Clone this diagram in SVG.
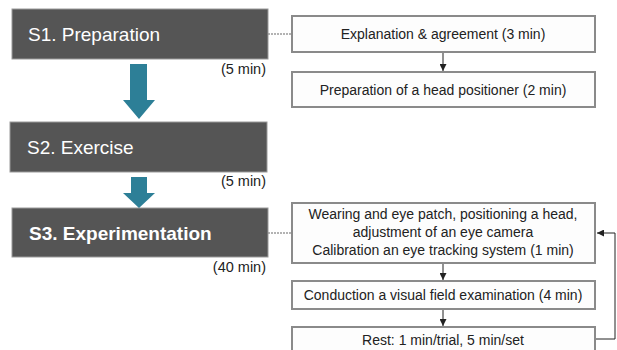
<svg xmlns="http://www.w3.org/2000/svg" width="617" height="350" viewBox="0 0 617 350">
<defs>
<style>
.stage{fill:#555555;stroke:#9a9a9a;stroke-width:1}
.st{fill:#ffffff;font-family:"Liberation Sans",Arial,sans-serif;font-size:19px}
.dur{fill:#222;font-family:"Liberation Sans",Arial,sans-serif;font-size:14.5px;text-anchor:end}
.box{fill:#fdfdfd;stroke:#8a8a8a;stroke-width:2}
.bt{fill:#222;font-family:"Liberation Sans",Arial,sans-serif;font-size:14px;text-anchor:middle}
.big{fill:#2d7f97}
.dash{stroke:#9a9a9a;stroke-width:1.5;stroke-dasharray:2 1;fill:none}
.line{stroke:#222;stroke-width:1;fill:none}
</style>
<marker id="ah" viewBox="0 0 10 10" refX="10" refY="5" markerWidth="7" markerHeight="7" orient="auto" markerUnits="userSpaceOnUse">
<path d="M0,0 L10,5 L0,10 z" fill="#222"/>
</marker>
</defs>
<rect width="617" height="350" fill="#ffffff"/>

<g id="S1">
<rect class="stage" x="12" y="9" width="256" height="50"/>
<text class="st" x="28" y="41">S1. Preparation</text>
<text class="dur" x="266" y="74">(5 min)</text>
</g>
<g id="S2">
<rect class="stage" x="10" y="122" width="257" height="50"/>
<text class="st" x="27" y="154">S2. Exercise</text>
<text class="dur" x="266" y="186">(5 min)</text>
</g>
<g id="S3">
<rect class="stage" x="12" y="208" width="256" height="49"/>
<text class="st" x="29" y="240" font-weight="bold">S3. Experimentation</text>
<text class="dur" x="266" y="272">(40 min)</text>
</g>

<g id="B1">
<rect class="box" x="292" y="16" width="303" height="36"/>
<text class="bt" x="443" y="39">Explanation &amp; agreement (3 min)</text>
</g>
<g id="B2">
<rect class="box" x="292" y="72" width="303" height="35"/>
<text class="bt" x="443" y="95">Preparation of a head positioner (2 min)</text>
</g>
<g id="B3">
<rect class="box" x="292" y="203" width="303" height="60"/>
<text class="bt" x="443" y="219">Wearing and eye patch, positioning a head,</text>
<text class="bt" x="443" y="237">adjustment of an eye camera</text>
<text class="bt" x="443" y="255">Calibration an eye tracking system (1 min)</text>
</g>
<g id="B4">
<rect class="box" x="292" y="281" width="303" height="28"/>
<text class="bt" x="443" y="300">Conduction a visual field examination (4 min)</text>
</g>
<g id="B5">
<rect class="box" x="292" y="327" width="303" height="30"/>
<text class="bt" x="443" y="345">Rest: 1 min/trial, 5 min/set</text>
</g>

<g id="connectors">
<path class="big" d="M130,64 H147 V100 H155 L139,119 L123,100 H130 Z"/>
<path class="big" d="M131,177 H147 V193 H155 L139,208 L123,193 H131 Z"/>
<line class="dash" x1="268" y1="34" x2="291" y2="34"/>
<line class="dash" x1="268" y1="233" x2="291" y2="233"/>
<line class="line" x1="443" y1="53" x2="443" y2="71" marker-end="url(#ah)"/>
<line class="line" x1="443" y1="264" x2="443" y2="280" marker-end="url(#ah)"/>
<line class="line" x1="443" y1="310" x2="443" y2="326" marker-end="url(#ah)"/>
<path class="line" d="M596,339 H615 V233 H597" marker-end="url(#ah)"/>
</g>
</svg>
